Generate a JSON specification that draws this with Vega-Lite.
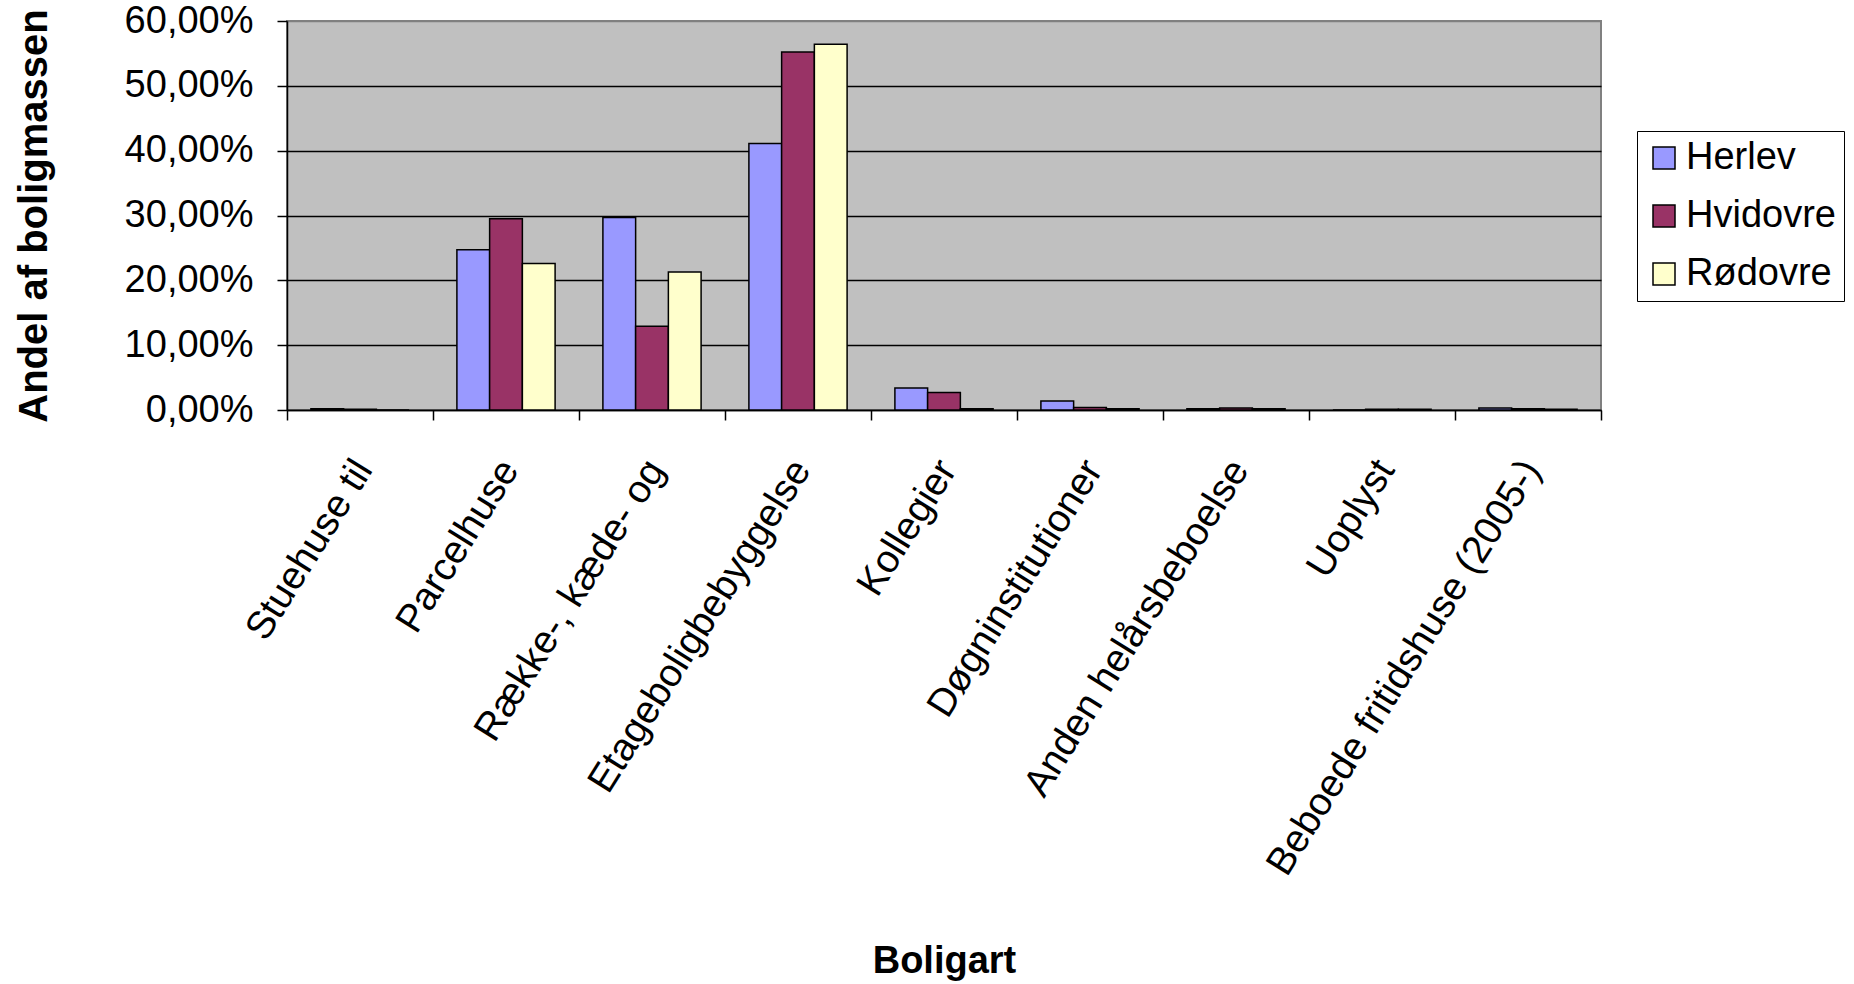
{
  "$schema": "https://vega.github.io/schema/vega-lite/v6.json",
  "width": 1314,
  "height": 389,
  "autosize": "none",
  "padding": {"left": 287, "top": 21, "right": 253, "bottom": 574},
  "background": "white",
  "data": {
    "values": [
      {"boligart": "Stuehuse til", "kommune": "Herlev", "andel": 0.002},
      {"boligart": "Stuehuse til", "kommune": "Hvidovre", "andel": 0.001},
      {"boligart": "Stuehuse til", "kommune": "Rødovre", "andel": 0.0},
      {"boligart": "Parcelhuse", "kommune": "Herlev", "andel": 0.247},
      {"boligart": "Parcelhuse", "kommune": "Hvidovre", "andel": 0.295},
      {"boligart": "Parcelhuse", "kommune": "Rødovre", "andel": 0.226},
      {"boligart": "Række-, kæde- og", "kommune": "Herlev", "andel": 0.297},
      {"boligart": "Række-, kæde- og", "kommune": "Hvidovre", "andel": 0.129},
      {"boligart": "Række-, kæde- og", "kommune": "Rødovre", "andel": 0.213},
      {"boligart": "Etageboligbebyggelse", "kommune": "Herlev", "andel": 0.411},
      {"boligart": "Etageboligbebyggelse", "kommune": "Hvidovre", "andel": 0.552},
      {"boligart": "Etageboligbebyggelse", "kommune": "Rødovre", "andel": 0.564},
      {"boligart": "Kollegier", "kommune": "Herlev", "andel": 0.034},
      {"boligart": "Kollegier", "kommune": "Hvidovre", "andel": 0.027},
      {"boligart": "Kollegier", "kommune": "Rødovre", "andel": 0.002},
      {"boligart": "Døgninstitutioner", "kommune": "Herlev", "andel": 0.014},
      {"boligart": "Døgninstitutioner", "kommune": "Hvidovre", "andel": 0.004},
      {"boligart": "Døgninstitutioner", "kommune": "Rødovre", "andel": 0.002},
      {"boligart": "Anden helårsbeboelse", "kommune": "Herlev", "andel": 0.002},
      {"boligart": "Anden helårsbeboelse", "kommune": "Hvidovre", "andel": 0.003},
      {"boligart": "Anden helårsbeboelse", "kommune": "Rødovre", "andel": 0.002},
      {"boligart": "Uoplyst", "kommune": "Herlev", "andel": 0.0},
      {"boligart": "Uoplyst", "kommune": "Hvidovre", "andel": 0.001},
      {"boligart": "Uoplyst", "kommune": "Rødovre", "andel": 0.001},
      {"boligart": "Beboede fritidshuse (2005-)", "kommune": "Herlev", "andel": 0.003},
      {"boligart": "Beboede fritidshuse (2005-)", "kommune": "Hvidovre", "andel": 0.002},
      {"boligart": "Beboede fritidshuse (2005-)", "kommune": "Rødovre", "andel": 0.001}
    ]
  },
  "mark": {"type": "bar", "stroke": "black", "strokeWidth": 1.5},
  "encoding": {
    "x": {
      "field": "boligart",
      "type": "nominal",
      "sort": null,
      "scale": {"paddingInner": 0, "paddingOuter": 0},
      "axis": {
        "title": "Boligart",
        "titleFont": "Liberation Sans",
        "titleFontSize": 38,
        "titleFontWeight": "bold",
        "titleColor": "black",
        "titleBaseline": "alphabetic",
        "titleY": 562,
        "tickBand": "extent",
        "labelAngle": -58,
        "labelAlign": "right",
        "labelBaseline": "middle",
        "labelOffset": 3,
        "labelPadding": 43,
        "labelFont": "Liberation Sans",
        "labelFontSize": 39,
        "labelColor": "black",
        "labelLimit": 0,
        "labelOverlap": false,
        "domainColor": "black",
        "domainWidth": 1.5,
        "tickColor": "black",
        "tickSize": 10,
        "tickWidth": 1.5
      }
    },
    "xOffset": {
      "field": "kommune",
      "type": "nominal",
      "sort": ["Herlev", "Hvidovre", "Rødovre"],
      "scale": {"paddingInner": 0, "paddingOuter": 0.73}
    },
    "y": {
      "field": "andel",
      "type": "quantitative",
      "scale": {"domain": [0, 0.6], "nice": false},
      "axis": {
        "title": "Andel af boligmassen",
        "titleFont": "Liberation Sans",
        "titleFontSize": 40,
        "titleFontWeight": "bold",
        "titleColor": "black",
        "titleBaseline": "alphabetic",
        "titleX": -241,
        "values": [0, 0.1, 0.2, 0.3, 0.4, 0.5, 0.6],
        "labelExpr": "replace(format(datum.value, '.2%'), '.', ',')",
        "labelFont": "Liberation Sans",
        "labelFontSize": 38,
        "labelColor": "black",
        "labelPadding": 24,
        "domainColor": "black",
        "domainWidth": 1.5,
        "tickColor": "black",
        "tickSize": 10,
        "tickWidth": 1.5,
        "grid": true,
        "gridColor": {"condition": {"test": "datum.value >= 0.6", "value": "#808080"}, "value": "black"},
        "gridWidth": 1.5
      }
    },
    "color": {
      "field": "kommune",
      "type": "nominal",
      "scale": {
        "domain": ["Herlev", "Hvidovre", "Rødovre"],
        "range": ["#9999FF", "#993366", "#FFFFCC"]
      },
      "legend": {
        "title": null,
        "orient": "none",
        "legendX": 1350,
        "legendY": 110,
        "symbolType": "square",
        "symbolSize": 484,
        "symbolStrokeColor": "black",
        "symbolStrokeWidth": 1.5,
        "symbolOpacity": 1,
        "labelFont": "Liberation Sans",
        "labelFontSize": 38,
        "labelColor": "black",
        "labelOffset": 3,
        "rowPadding": 20,
        "padding": 8,
        "strokeColor": "black",
        "fillColor": "white"
      }
    }
  },
  "config": {
    "view": {"fill": "#C0C0C0", "stroke": "#808080", "strokeWidth": 2}
  }
}
